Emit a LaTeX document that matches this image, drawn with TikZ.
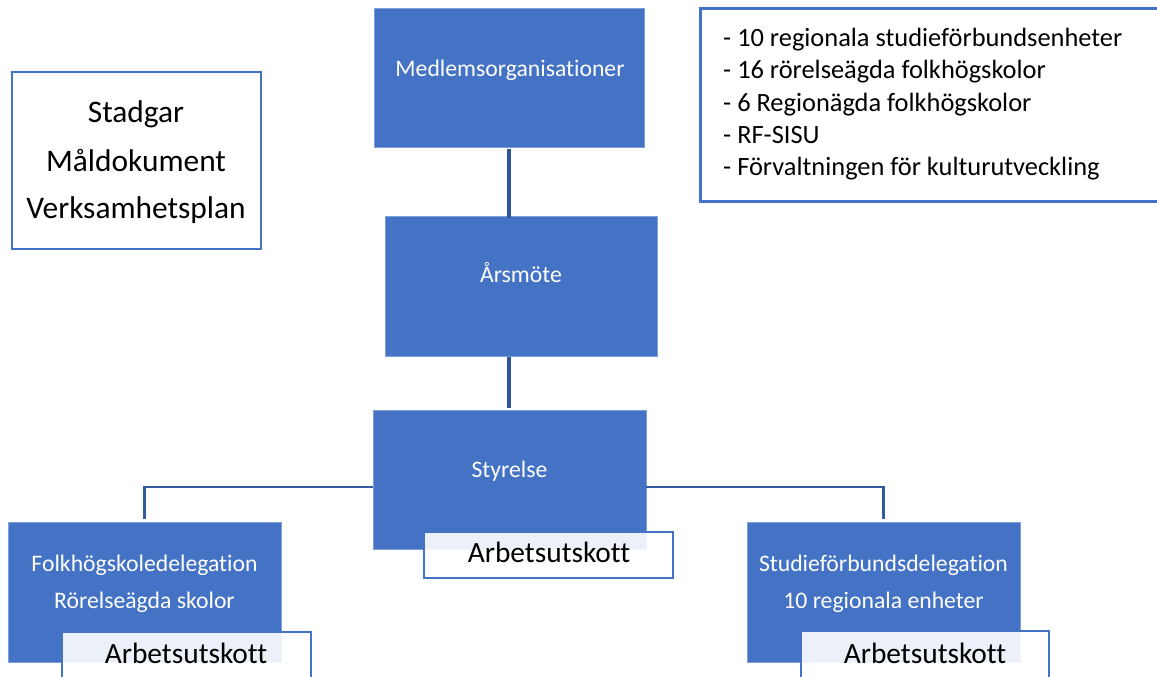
\documentclass[tikz,border=0pt]{standalone}
\usepackage{fontspec}
\setmainfont{Carlito}[Ligatures={NoCommon}]
\definecolor{boxblue}{HTML}{4472C4}
\definecolor{edgeblue}{HTML}{7F9FD8}
\definecolor{linkblue}{HTML}{2F5597}
\begin{document}
\begin{tikzpicture}[x=1pt,y=-1pt,
  bluebox/.style={draw=edgeblue, line width=0.8pt, fill=boxblue, inner sep=0pt},
  subbox/.style={draw=boxblue, line width=2pt, fill=white, fill opacity=0.9, inner sep=0pt},
  framebox/.style={draw=boxblue, fill=white, inner sep=0pt},
  whitetxt/.style={text=white, font=\fontsize{23.7}{28}\selectfont, anchor=base, inner sep=0pt},
  autxt/.style={text=black, font=\fontsize{29.4}{35}\selectfont, anchor=base, inner sep=0pt},
  doctxt/.style={text=black, font=\fontsize{31.4}{38}\selectfont, anchor=base, inner sep=0pt},
  listtxt/.style={text=black, font=\fontsize{26.4}{32}\selectfont, anchor=base west, inner sep=0pt},
  link/.style={draw=linkblue, line width=3.2pt},
  elbow/.style={draw=linkblue!80!boxblue, line width=2.3pt}
]
\useasboundingbox (0,0) rectangle (1157,677);
\clip (0,0) rectangle (1157,677);
\fill[white] (0,0) rectangle (1157,677);

% main blue boxes
\node[bluebox, minimum width=270pt, minimum height=139pt] (med) at (509,77.5) {};
\node[bluebox, minimum width=272pt, minimum height=140pt] (ars) at (521,286) {};
\node[bluebox, minimum width=273pt, minimum height=139pt] (sty) at (509.5,479.5) {};
\node[bluebox, minimum width=273pt, minimum height=140pt] (folk) at (144.5,592) {};
\node[bluebox, minimum width=273pt, minimum height=140pt] (stud) at (883.5,592) {};

% side boxes
\node[framebox, line width=2pt, minimum width=249pt, minimum height=177pt] (doc) at (136.5,160.5) {};
\node[framebox, line width=3pt, minimum width=470pt, minimum height=192pt] (list) at (935,105) {};

% connectors
\draw[link] ([yshift=-2pt]med.south) -- ([yshift=-2pt]med.south |- ars.north);
\draw[link] ([yshift=-1pt]med.south |- ars.south) -- ([yshift=2pt]med.south |- sty.north);
\draw[elbow] ([yshift=-7.5pt]sty.west) -| ([yshift=3pt]folk.north);
\draw[elbow] ([yshift=-7.5pt]sty.east) -| ([yshift=3pt]stud.north);

% Arbetsutskott boxes
\node[subbox, minimum width=249pt, minimum height=46pt] (auS) at (548.5,555) {};
\node[subbox, minimum width=249pt, minimum height=70pt] (auF) at (186.5,667) {};
\node[subbox, minimum width=248pt, minimum height=70pt] (auR) at (925,666) {};

% texts
\node[whitetxt] (medT) at (510,77) {Medlemsorganisationer};
\node[whitetxt] (arsT) at (521,282) {Årsmöte};
\node[whitetxt] (styT) at (509.5,477) {Styrelse};
\node[whitetxt] (folkT1) at (144.5,571) {Folkhögskoledelegation};
\node[whitetxt] (folkT2) at (144.5,608) {Rörelseägda skolor};
\node[whitetxt] (studT1) at (883.5,571) {Studieförbundsdelegation};
\node[whitetxt] (studT2) at (883.5,608) {10 regionala enheter};

\node[autxt] (auST) at (549,562) {Arbetsutskott};
\node[autxt] (auFT) at (186,663) {Arbetsutskott};
\node[autxt] (auRT) at (925,663) {Arbetsutskott};

\node[doctxt] (docT1) at (136,122) {Stadgar};
\node[doctxt] (docT2) at (136,171) {Måldokument};
\node[doctxt] (docT3) at (136,218) {Verksamhetsplan};

\node[listtxt] (l1) at (723,47) {- 10 regionala studieförbundsenheter};
\node[listtxt] (l2) at (723,79) {- 16 rörelseägda folkhögskolor};
\node[listtxt] (l3) at (723,111) {- 6 Regionägda folkhögskolor};
\node[listtxt] (l4) at (723,143) {- RF-SISU};
\node[listtxt] (l5) at (723,175) {- Förvaltningen för kulturutveckling};
\end{tikzpicture}
\end{document}
